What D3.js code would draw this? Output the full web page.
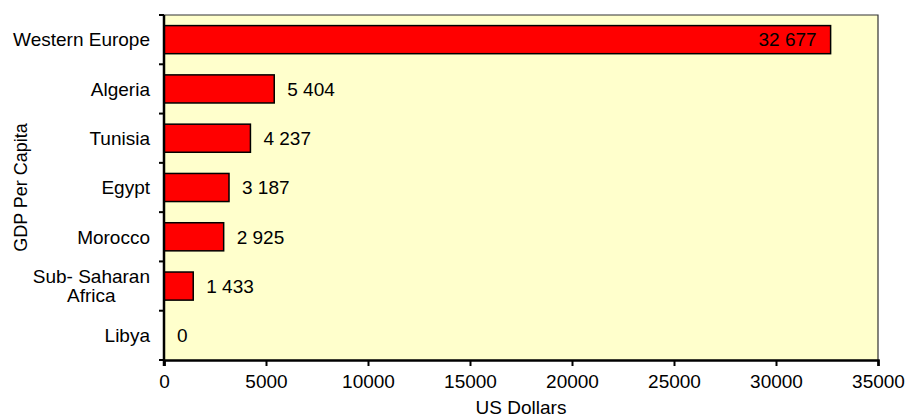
<!DOCTYPE html>
<html>
<head>
<meta charset="utf-8">
<script src="https://cdn.jsdelivr.net/npm/d3@7.9.0/dist/d3.min.js"></script>
<style>
  body { margin: 0; background: #fff; }
  svg text { font-family: "Liberation Sans", Arial, sans-serif; fill: #000; }
</style>
</head>
<body>
<svg id="chart" width="908" height="419"></svg>
<script>
// chart data
const categories = ['Western Europe', 'Algeria', 'Tunisia', 'Egypt', 'Morocco', 'Sub- Saharan\nAfrica', 'Libya'];
const gdpValues = [32677, 5404, 4237, 3187, 2925, 1433, 0];
const valueLabels = ['32 677', '5 404', '4 237', '3 187', '2 925', '1 433', '0'];
const xTicks = [0, 5000, 10000, 15000, 20000, 25000, 30000, 35000];

const margin = { top: 15, right: 30, bottom: 59, left: 164 };
const width = 908 - margin.left - margin.right;
const height = 419 - margin.top - margin.bottom;
const fontSize = '19px';

const svg = d3.select('#chart');
const g = svg.append('g').attr('transform', `translate(${margin.left},${margin.top})`);

const x = d3.scaleLinear().domain([0, 35000]).range([0, width]);
const y = d3.scaleBand().domain(categories).range([0, height])
  .paddingInner(0.43).paddingOuter(0.215);

// plot background
g.append('rect')
  .attr('width', width).attr('height', height)
  .attr('fill', '#ffffcc');

// top + right border
g.append('path')
  .attr('d', `M0,0H${width}V${height}`)
  .attr('fill', 'none').attr('stroke', '#333').attr('stroke-width', 1.2);

// bars
g.selectAll('.bar')
  .data(gdpValues)
  .join('rect')
  .attr('class', 'bar')
  .attr('x', 0)
  .attr('y', (d, i) => y(categories[i]))
  .attr('width', d => x(d))
  .attr('height', y.bandwidth())
  .attr('fill', d => d > 0 ? '#ff0000' : 'none')
  .attr('stroke', d => d > 0 ? '#000' : 'none')
  .attr('stroke-width', 1.5);

// value labels
g.selectAll('.val')
  .data(gdpValues)
  .join('text')
  .attr('class', 'val')
  .attr('x', d => d > 30000 ? x(d) - 14 : x(d) + 13)
  .attr('y', (d, i) => y(categories[i]) + y.bandwidth() / 2)
  .attr('dy', '0.36em')
  .attr('text-anchor', d => d > 30000 ? 'end' : 'start')
  .style('font-size', fontSize)
  .text((d, i) => valueLabels[i]);

// x axis
const xAxis = g.append('g')
  .attr('transform', `translate(0,${height})`)
  .call(d3.axisBottom(x).tickValues(xTicks).tickSize(6).tickPadding(9).tickFormat(d3.format('d')));
xAxis.select('.domain').attr('stroke', '#000').attr('stroke-width', 2.5);
xAxis.selectAll('.tick line').attr('stroke', '#000').attr('stroke-width', 2);
xAxis.selectAll('.tick text').style('font-size', fontSize).attr('font-family', 'Liberation Sans, Arial, sans-serif');

// y axis: ticks at band boundaries
const step = y.step();
const boundaries = d3.range(categories.length + 1).map(i => i * step);
g.selectAll('.ytick')
  .data(boundaries)
  .join('line')
  .attr('class', 'ytick')
  .attr('x1', -5).attr('x2', 0)
  .attr('y1', d => d).attr('y2', d => d)
  .attr('stroke', '#000').attr('stroke-width', 2);
g.append('line')
  .attr('x1', 0).attr('x2', 0).attr('y1', 0).attr('y2', height + 6)
  .attr('stroke', '#000').attr('stroke-width', 2.5);

// category labels (multi-line ones centred as a block)
categories.forEach(c => {
  const lines = c.split('\n');
  const cy = y(c) + y.bandwidth() / 2;
  const t = g.append('text')
    .attr('y', cy - (lines.length - 1) * 9.5)
    .style('font-size', fontSize);
  lines.forEach((ln, k) => {
    t.append('tspan').attr('x', -14).attr('dy', k === 0 ? '0.36em' : 19).text(ln);
  });
  const w = t.node().getBBox().width;
  if (lines.length > 1) {
    t.attr('text-anchor', 'middle');
    t.selectAll('tspan').attr('x', -14 - w / 2);
  } else {
    t.attr('text-anchor', 'end');
  }
});

// axis titles
g.append('text')
  .attr('x', width / 2).attr('y', height + 54)
  .attr('text-anchor', 'middle')
  .style('font-size', fontSize)
  .text('US Dollars');

svg.append('text')
  .attr('transform', `translate(27,${margin.top + height / 2}) rotate(-90)`)
  .attr('text-anchor', 'middle')
  .style('font-size', '18px')
  .style('font-family', '"Liberation Sans Narrow", "Liberation Sans", sans-serif')
  .text('GDP Per Capita');
</script>
</body>
</html>
